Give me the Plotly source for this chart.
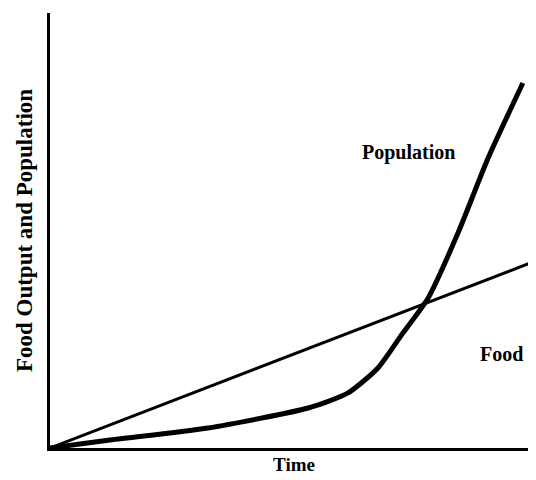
import plotly.graph_objects as go

# values (arbitrary units, 0-100)
food_x = [0, 100]
food_y = [0, 43.2]
pop_x = [0, 11.9, 32.4, 52.9, 61, 67.2, 72.3, 77.5, 83.6, 89.8, 96.9]
pop_y = [0, 1.8, 4.6, 9.2, 12.6, 18.4, 26.4, 34.5, 49.4, 66.7, 83.9]

fig = go.Figure()
fig.add_trace(go.Scatter(x=food_x, y=food_y, mode="lines",
                         line=dict(color="black", width=3)))
fig.add_trace(go.Scatter(x=pop_x, y=pop_y, mode="lines",
                         line=dict(color="black", width=5, shape="spline", smoothing=0.6)))

fig.add_annotation(x=73.5, y=68, text="<b>Population</b>", showarrow=False,
                   font=dict(size=20, color="black"))
fig.add_annotation(x=92.5, y=21.5, text="<b>Food</b>", showarrow=False,
                   font=dict(size=20, color="black"))

fig.update_xaxes(range=[0, 100], showgrid=False, zeroline=False,
                 showticklabels=False, showline=True, linecolor="black",
                 linewidth=3, title=dict(text="<b>Time</b>", standoff=8,
                                         font=dict(size=19)))
fig.update_yaxes(range=[0, 100], showgrid=False, zeroline=False,
                 showticklabels=False, showline=True, linecolor="black",
                 linewidth=3, title=dict(text="<b>Food Output and Population</b>",
                                         standoff=8, font=dict(size=23)))

fig.update_layout(
    width=536, height=480,
    margin=dict(l=42, r=6, t=5, b=40),
    showlegend=False,
    plot_bgcolor="white", paper_bgcolor="white",
    font=dict(family="Liberation Serif", size=19, color="black"),
)

fig.write_html("out.html")
